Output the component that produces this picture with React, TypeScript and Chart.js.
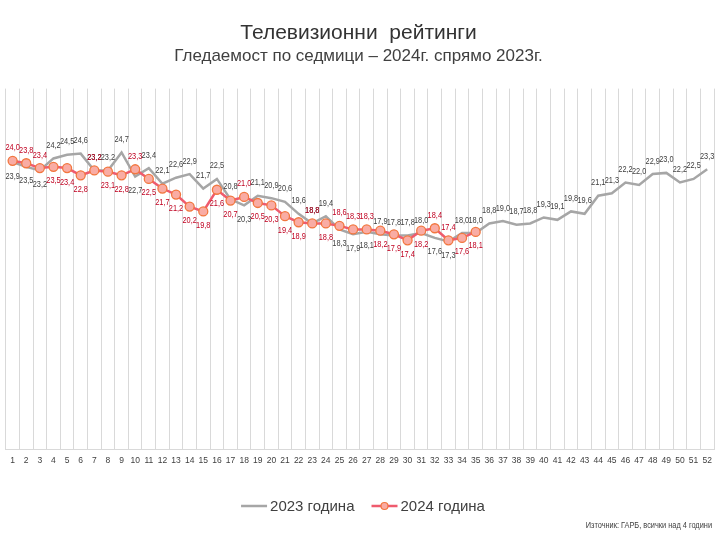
import React, { useEffect, useRef } from 'react';
import { Chart, registerables } from 'chart.js';

Chart.register(...registerables);

const weeks = ['1', '2', '3', '4', '5', '6', '7', '8', '9', '10', '11', '12', '13', '14', '15', '16', '17', '18', '19', '20', '21', '22', '23', '24', '25', '26', '27', '28', '29', '30', '31', '32', '33', '34', '35', '36', '37', '38', '39', '40', '41', '42', '43', '44', '45', '46', '47', '48', '49', '50', '51', '52'];

const ratings2023 = [23.9, 23.5, 23.2, 24.2, 24.5, 24.6, 23.2, 23.2, 24.7, 22.7, 23.4, 22.1, 22.6, 22.9, 21.7, 22.5, 20.8, 20.3, 21.1, 20.9, 20.6, 19.6, 18.8, 19.4, 18.3, 17.9, 18.1, 17.9, 17.8, 17.8, 18.0, 17.6, 17.3, 18.0, 18.0, 18.8, 19.0, 18.7, 18.8, 19.3, 19.1, 19.8, 19.6, 21.1, 21.3, 22.2, 22.0, 22.9, 23.0, 22.2, 22.5, 23.3];

const ratings2024 = [24.0, 23.8, 23.4, 23.5, 23.4, 22.8, 23.2, 23.1, 22.8, 23.3, 22.5, 21.7, 21.2, 20.2, 19.8, 21.6, 20.7, 21.0, 20.5, 20.3, 19.4, 18.9, 18.8, 18.8, 18.6, 18.3, 18.3, 18.2, 17.9, 17.4, 18.2, 18.4, 17.4, 17.6, 18.1];

const seriesNames = ['2023 година', '2024 година'];

// label placement (a = above point, b = below point)
const labelSide2023 = ('bbb' + 'aaaaaa' + 'b' + 'aaaaaaa' + 'b' + 'aaaaaa' + 'bbb' + 'aaaa' + 'bb' + 'aaaaaaaaaaaaaaaaaaa').split('');
const labelSide2024 = ('aaa' + 'bbb' + 'a' + 'bb' + 'a' + 'bbbbbbb' + 'a' + 'bbbb' + 'a' + 'b' + 'aaa' + 'bbbb' + 'aa' + 'bb').split('');

const titleText = 'Телевизионни  рейтинги';
const subtitleText = 'Гледаемост по седмици – 2024г. спрямо 2023г.';
const sourceText = 'Източник: ГАРБ, всички над 4 години';

const SANS = "'Liberation Sans', Arial, sans-serif";

const GRAY = '#a6a6a6';
const RED = '#ef5b6e';
const RED_POINT = '#f9aca4';
const RED_POINT_BORDER = '#f2773f';
const GRAY_TEXT = '#404040';
const RED_TEXT = '#c00020';

function condensedText(ctx: any, text: string, x: number, y: number, squeeze: number) {
  ctx.save();
  ctx.translate(x, y);
  ctx.scale(squeeze, 1);
  ctx.fillText(text, 0, 0);
  ctx.restore();
}

const valueLabels = {
  id: 'valueLabels',
  afterDatasetsDraw(chart: any) {
    const ctx = chart.ctx;
    ctx.save();
    ctx.font = `9px ${SANS}`;
    ctx.textAlign = 'center';
    ctx.textBaseline = 'middle';
    const order = [1, 0]; // draw 2023 labels first, then 2024 on top
    order.forEach((di) => {
      const ds = chart.data.datasets[di];
      const meta = chart.getDatasetMeta(di);
      const is2023 = ds.label === seriesNames[0];
      const sides = is2023 ? labelSide2023 : labelSide2024;
      ctx.fillStyle = is2023 ? GRAY_TEXT : RED_TEXT;
      meta.data.forEach((pt: any, i: number) => {
        const v = ds.data[i];
        if (v == null) return;
        const dy = sides[i] === 'a' ? -13 : 14;
        condensedText(ctx, Number(v).toFixed(1).replace('.', ','), pt.x, pt.y + dy, 0.82);
      });
    });
    ctx.restore();
  },
};

const legendAndSource = {
  id: 'legendAndSource',
  afterDraw(chart: any) {
    const ctx = chart.ctx;
    ctx.save();
    ctx.font = `15px ${SANS}`;
    ctx.textBaseline = 'middle';
    ctx.textAlign = 'left';
    const lineW = 26;
    const gapText = 3;
    const gapItems = 17;
    const w1 = ctx.measureText(seriesNames[0]).width;
    const w2 = ctx.measureText(seriesNames[1]).width;
    const total = lineW + gapText + w1 + gapItems + lineW + gapText + w2;
    const cy = 506;
    let x = 363 - total / 2;
    ctx.strokeStyle = GRAY;
    ctx.lineWidth = 2.5;
    ctx.beginPath();
    ctx.moveTo(x, cy);
    ctx.lineTo(x + lineW, cy);
    ctx.stroke();
    ctx.fillStyle = GRAY_TEXT;
    ctx.fillText(seriesNames[0], x + lineW + gapText, cy + 1);
    x += lineW + gapText + w1 + gapItems;
    ctx.strokeStyle = RED;
    ctx.beginPath();
    ctx.moveTo(x, cy);
    ctx.lineTo(x + lineW, cy);
    ctx.stroke();
    ctx.fillStyle = RED_POINT;
    ctx.strokeStyle = RED_POINT_BORDER;
    ctx.lineWidth = 1.2;
    ctx.beginPath();
    ctx.arc(x + lineW / 2, cy, 3.5, 0, Math.PI * 2);
    ctx.fill();
    ctx.stroke();
    ctx.fillStyle = GRAY_TEXT;
    ctx.fillText(seriesNames[1], x + lineW + gapText, cy + 1);
    ctx.font = `9px ${SANS}`;
    ctx.textAlign = 'right';
    ctx.fillStyle = GRAY_TEXT;
    condensedText(ctx, sourceText, 712, 526, 0.82);
    ctx.restore();
  },
};

export default function App() {
  const ref = useRef<HTMLCanvasElement | null>(null);

  useEffect(() => {
    document.body.style.margin = '0';
    const canvas = ref.current;
    if (!canvas) return;
    const chart = new Chart(canvas, {
      type: 'line',
      data: {
        labels: weeks,
        datasets: [
          {
            label: seriesNames[1],
            data: ratings2024,
            borderColor: RED,
            backgroundColor: RED_POINT,
            borderWidth: 2.5,
            pointRadius: 4.5,
            pointBackgroundColor: RED_POINT,
            pointBorderColor: RED_POINT_BORDER,
            pointBorderWidth: 1.3,
            tension: 0,
            order: 0,
          },
          {
            label: seriesNames[0],
            data: ratings2023,
            borderColor: GRAY,
            backgroundColor: GRAY,
            borderWidth: 2.5,
            pointRadius: 0,
            tension: 0,
            order: 1,
          },
        ],
      },
      options: {
        responsive: false,
        animation: false,
        layout: { padding: { left: 3, right: 6, top: 0, bottom: 68 } },
        plugins: {
          legend: { display: false },
          tooltip: { enabled: false },
          title: {
            display: true,
            text: titleText,
            color: '#333333',
            font: { family: SANS, size: 21, weight: 'normal' },
            padding: { top: 21, bottom: 0 },
          },
          subtitle: {
            display: true,
            text: subtitleText,
            color: GRAY_TEXT,
            font: { family: SANS, size: 17, weight: 'normal' },
            padding: { top: 0, bottom: 22 },
          },
        },
        scales: {
          x: {
            offset: true,
            grid: { display: true, offset: true, color: '#d9d9d9', drawTicks: false },
            border: { display: true, color: '#d9d9d9' },
            ticks: {
              autoSkip: false,
              maxRotation: 0,
              padding: 6,
              color: GRAY_TEXT,
              font: { family: SANS, size: 8.5 },
            },
            afterFit: (scale: any) => {
              scale.paddingLeft = 0;
              scale.paddingRight = 0;
            },
          },
          y: {
            display: false,
            min: 0,
            max: 30,
          },
        },
      },
      plugins: [valueLabels, legendAndSource],
    });
    return () => chart.destroy();
  }, []);

  return (
    <div style={{ width: 720, height: 540 }}>
      <canvas ref={ref} width={720} height={540} />
    </div>
  );
}
